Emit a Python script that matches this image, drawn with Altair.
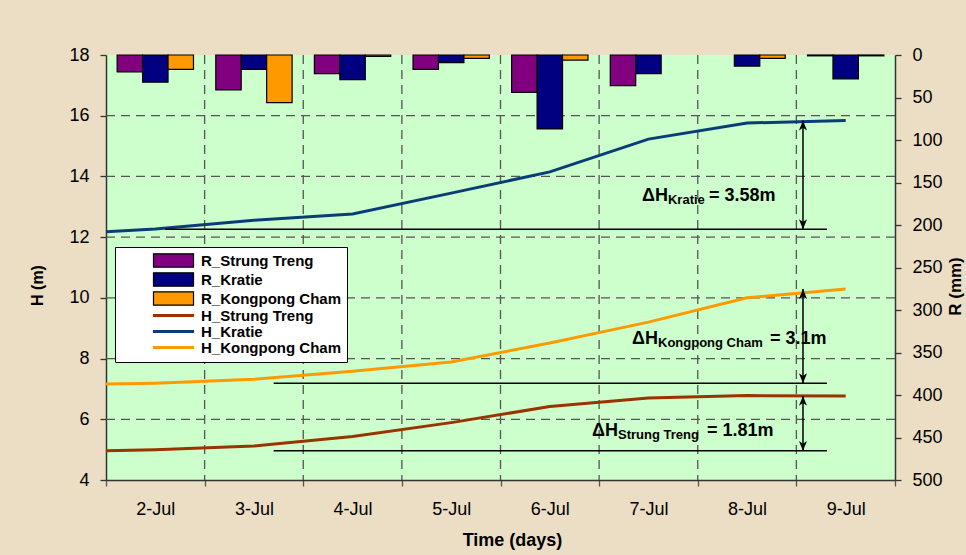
import altair as alt
import pandas as pd

# ---- data ---------------------------------------------------------------
days = [2, 3, 4, 5, 6, 7, 8, 9]
day_labels = ["2-Jul", "3-Jul", "4-Jul", "5-Jul", "6-Jul", "7-Jul", "8-Jul", "9-Jul"]

stations = ["Strung Treng", "Kratie", "Kongpong Cham"]

# daily rainfall R (mm), drawn as bars hanging from the top on the right axis
rain_strung_treng = [20, 41, 22, 17, 44, 36, 0, 1]
rain_kratie = [32, 17, 29, 9, 87, 22, 13, 28]
rain_kongpong_cham = [17, 56, 1.5, 4, 6, 0, 4, 1]

# water level H (m); the first value sits on the left edge of the time axis
level_x = [1.5, 2, 3, 4, 5, 6, 7, 8, 9]
level_strung_treng = [4.96, 5.00, 5.12, 5.43, 5.89, 6.42, 6.70, 6.78, 6.77]
level_kratie = [12.18, 12.27, 12.56, 12.76, 13.45, 14.15, 15.23, 15.76, 15.84]
level_kongpong_cham = [7.16, 7.19, 7.32, 7.58, 7.89, 8.51, 9.20, 10.00, 10.29]

# rise in water level over the period (m)
rise = [1.81, 3.58, 3.1]

h_ticks = [4, 6, 8, 10, 12, 14, 16, 18]
r_ticks = [0, 50, 100, 150, 200, 250, 300, 350, 400, 450, 500]

# ---- styling ------------------------------------------------------------
FONT = "Liberation Sans"
rain_colors = ["#800080", "#000080", "#FF9900"]
level_colors = ["#993300", "#0A3D77", "#FF9900"]
grid_style = dict(color="#555555", strokeWidth=1.3, strokeDash=[9, 6])
bar_w = 0.258  # width of one bar, in days

W, H = 789, 425

x_scale = alt.Scale(domain=[1.5, 9.5], nice=False, zero=False)
h_scale = alt.Scale(domain=[4, 18], nice=False, zero=False)
r_scale = alt.Scale(domain=[0, 500], reverse=True, nice=False)

# where the rise annotations sit (days / metres)
ann_layout = {
    "Strung Treng": dict(text_x=6.428, sub_x=6.691, eq_x=7.594, text_y=5.45, base_x0=3.2),
    "Kratie": dict(text_x=6.935, sub_x=7.198, eq_x=7.614, text_y=13.2, base_x0=2.1),
    "Kongpong Cham": dict(text_x=6.833, sub_x=7.097, eq_x=8.233, text_y=8.48, base_x0=3.2),
}
arrow_x = 8.567
base_x1 = 8.81

# ---- tables ---------------------------------------------------------------
rain_series = [rain_strung_treng, rain_kratie, rain_kongpong_cham]
rain_names = ["R_" + s for s in stations]
level_series = [level_strung_treng, level_kratie, level_kongpong_cham]
level_names = ["H_" + s for s in stations]

bar_rows = []
for k, (name, vals) in enumerate(zip(rain_names, rain_series)):
    for d, v in zip(days, vals):
        if v > 0:
            x0 = d + (k - 1.5) * bar_w
            bar_rows.append(dict(series=name, x0=x0, x1=x0 + bar_w, rain=v))
bars_df = pd.DataFrame(bar_rows)

ann_rows = []
for s, vals, r in zip(stations, level_series, rise):
    top = vals[-1]
    lay = ann_layout[s]
    ann_rows.append(dict(station=s, top=top, bottom=top - r, arrow_x=arrow_x,
                         base_x1=base_x1, eq_text=f"= {r}m", **lay))
ann_df = pd.DataFrame(ann_rows)

legend_names = rain_names + level_names
legend_df = pd.DataFrame({"series": legend_names, "x": [20] * 6, "y": [10] * 6})

# day boundaries carry the ticks and the vertical grid
x_bounds = [d - 0.5 for d in days] + [days[-1] + 0.5]
vgrid_df = pd.DataFrame({"x": x_bounds[1:-1]})
hgrid_df = pd.DataFrame({"y": h_ticks[1:-1]})

# tick at the start of each day -> that day's label (shifted to the day's middle)
label_expr = "''"
for b, lab in zip(reversed(x_bounds[:-1]), reversed(day_labels)):
    label_expr = f"datum.value == {b} ? '{lab}' : ({label_expr})"

# ---- axes -----------------------------------------------------------------
half_day_px = W / len(days) / 2
x_axis = alt.Axis(
    values=x_bounds,
    title="Time (days)",
    labelExpr=label_expr,
    labelOffset=half_day_px,
    labelFlush=False,
    labelOverlap=False,
    grid=False,
    tickColor="#555555",
    tickSize=6,
    labelPadding=14,
    titleX=406,
    titleY=65,
    titleBaseline="alphabetic",
    titleAlign="center",
    titleFontSize=18,
)
h_axis = alt.Axis(
    values=h_ticks,
    title="H (m)",
    grid=False,
    tickSize=6,
    labelPadding=11,
    titleAngle=270,
    titleX=-64,
    titleY=230,
    titleAlign="center",
    titleBaseline="alphabetic",
    titleFontSize=16,
)
r_axis = alt.Axis(
    orient="right",
    values=r_ticks,
    title="R (mm)",
    grid=False,
    tickSize=6,
    labelPadding=11,
    titleAngle=270,
    titleX=65,
    titleY=231,
    titleAlign="center",
    titleBaseline="alphabetic",
    titleFontSize=17,
)


def xq(field):
    # every layer carries the same time axis so the shared axis merges cleanly
    return alt.X(field, type="quantitative", scale=x_scale, axis=x_axis)


def hq(field):
    return alt.Y(field, type="quantitative", scale=h_scale, axis=None)


# ---- marks ----------------------------------------------------------------
hgrid = alt.Chart(hgrid_df).mark_rule(**grid_style).encode(
    y=alt.Y("y:Q", scale=h_scale, axis=h_axis),
)
vgrid = alt.Chart(vgrid_df).mark_rule(**grid_style).encode(x=xq("x"))

bars = alt.Chart(bars_df).mark_bar(stroke="black", strokeWidth=1.2).encode(
    x=xq("x0"),
    x2="x1:Q",
    y=alt.Y("rain:Q", scale=r_scale, axis=r_axis),
    y2=alt.datum(0),
    fill=alt.Fill("series:N", scale=alt.Scale(domain=rain_names, range=rain_colors), legend=None),
)

level_layers = []
for name, vals, col in zip(level_names, level_series, level_colors):
    df = pd.DataFrame({"day": level_x, "level": vals})
    level_layers.append(
        alt.Chart(df).mark_line(color=col, strokeWidth=3).encode(x=xq("day"), y=hq("level"))
    )

base = alt.Chart(ann_df)
baselines = base.mark_rule(color="black", strokeWidth=1.5).encode(
    x=xq("base_x0"), x2="base_x1:Q", y=hq("bottom"),
)
arrows = base.mark_rule(color="black", strokeWidth=1.5).encode(
    x=xq("arrow_x"), y=hq("top"), y2="bottom:Q",
)
head_up = base.mark_point(shape="M0,0L-0.45,1.1L0,0.8L0.45,1.1Z", filled=True, color="black",
                          size=324, opacity=1).encode(x=xq("arrow_x"), y=hq("top"))
head_down = base.mark_point(shape="M0,0L-0.45,-1.1L0,-0.8L0.45,-1.1Z", filled=True, color="black",
                            size=324, opacity=1).encode(x=xq("arrow_x"), y=hq("bottom"))
txt = dict(font=FONT, fontWeight="bold", color="black", align="left", baseline="alphabetic")
delta_txt = base.mark_text(text="ΔH", fontSize=18, **txt).encode(x=xq("text_x"), y=hq("text_y"))
sub_txt = base.mark_text(fontSize=13, dy=3, **txt).encode(
    x=xq("sub_x"), y=hq("text_y"), text="station:N",
)
eq_txt = base.mark_text(fontSize=18, **txt).encode(
    x=xq("eq_x"), y=hq("text_y"), text="eq_text:N",
)

# legend carrier: points lie outside the time axis and are clipped away
legend = alt.Legend(
    orient="none", legendX=9, legendY=192, title=None,
    fillColor="white", strokeColor="black", padding=6,
    labelFont=FONT, labelFontSize=15, labelFontWeight="bold", labelColor="black",
    labelLimit=400,
    symbolSize=178, symbolOffset=45, labelOffset=20, rowPadding=0,
    symbolStrokeWidth=1.2, symbolOpacity=1,
)
rect_path = "M-3,-1H3V1H-3Z"
line_path = "M-3,-0.13H3V0.13H-3Z"
legend_pts = alt.Chart(legend_df).mark_point(filled=True, clip=True, size=178, opacity=1,
                                             strokeWidth=1.2).encode(
    x=xq("x"),
    y=hq("y"),
    color=alt.Color("series:N", scale=alt.Scale(domain=legend_names, range=rain_colors + level_colors),
                    legend=legend),
    stroke=alt.Stroke("series:N", scale=alt.Scale(domain=legend_names,
                                                  range=["black"] * 3 + level_colors), legend=legend),
    shape=alt.Shape("series:N", scale=alt.Scale(domain=legend_names,
                                                range=[rect_path] * 3 + [line_path] * 3), legend=legend),
)

levels = alt.layer(*level_layers, baselines, arrows, head_up, head_down,
                   delta_txt, sub_txt, eq_txt, legend_pts)

chart = (
    alt.layer(hgrid, vgrid, bars, levels)
    .resolve_scale(y="independent")
    .properties(
        width=W, height=H,
        padding={"left": 106, "top": 55, "right": 71, "bottom": 75},
        autosize=alt.AutoSizeParams(type="none"),
        background="#EBDEC4",
    )
    .configure_view(fill="#CCFFCC", stroke=None)
    .configure_axis(
        labelFont=FONT, labelFontSize=18, labelColor="black",
        titleFont=FONT, titleFontWeight="bold", titleColor="black",
        domainColor="#333333", domainWidth=1.5, tickColor="#333333", tickWidth=1.3,
    )
)

chart.save("out.html", embed_options={"renderer": "svg", "actions": False})
